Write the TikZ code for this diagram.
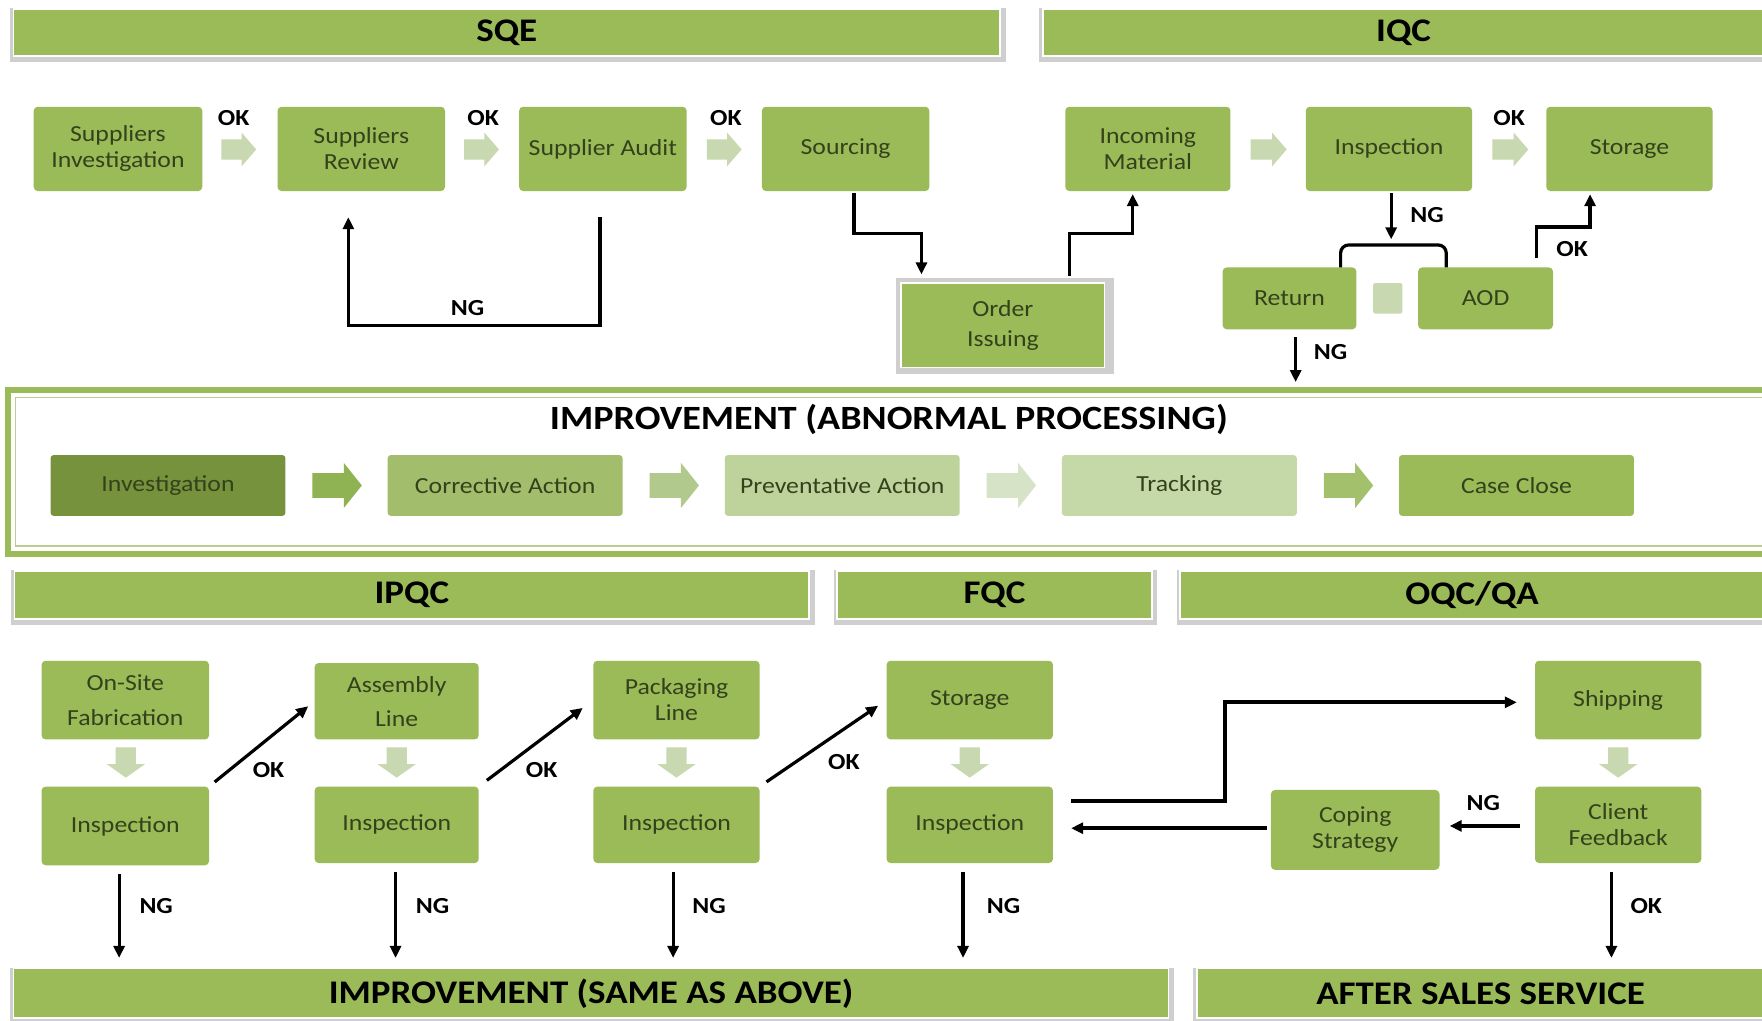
\documentclass[tikz,border=0pt]{standalone}
\usepackage{fontspec}
\setmainfont{Carlito}[FakeStretch=1.12]
\usetikzlibrary{arrows.meta,calc}
\definecolor{og}{HTML}{9BBB59}
\definecolor{ogdark}{HTML}{76923C}
\definecolor{ogca}{HTML}{A2BE6C}
\definecolor{ogpa}{HTML}{BED39B}
\definecolor{ogtr}{HTML}{C5D8A8}
\definecolor{txt}{HTML}{33421B}
\definecolor{lightarr}{HTML}{C8D8B0}
\definecolor{shadowc}{HTML}{CFCFCF}
\definecolor{framein}{HTML}{B9CF92}
\definecolor{arA}{HTML}{8FB252}
\definecolor{arB}{HTML}{B1C98C}
\definecolor{arC}{HTML}{D7E3C7}
\definecolor{arD}{HTML}{A3C06C}
\tikzset{
  gbox/.style={rounded corners=4pt, fill=og, text=txt, align=center, inner sep=0pt,
    font=\fontsize{23}{26}\selectfont},
  hdr/.style={fill=og, draw=white, line width=1.5pt, inner sep=0pt, text=black,
    font=\bfseries\fontsize{33}{36}\selectfont},
  lbl/.style={font=\bfseries\fontsize{23}{26}\selectfont, text=black, inner sep=0pt},
  conn/.style={draw=black, line width=3.2pt, -{Triangle[length=12pt,width=11pt]}},
  wire/.style={draw=black, line width=3.2pt}
}
\newcommand\gbox[7][]{\node[gbox,minimum width={(#5-#3)*1.1237pt},minimum height={(#6-#4)*1.1237pt},#1] (#2) at ({(#3+#5)/2},{(#4+#6)/2}) {#7};}
\newcommand\hdr[7][]{\fill[shadowc] (#3-3,#4-1) rectangle (#5+5,#6+5);
  \node[hdr,minimum width={(#5-#3)*1.1237pt},minimum height={(#6-#4)*1.1237pt},#1] (#2) at ({(#3+#5)/2},{(#4+#6)/2}) {#7};}
% right block arrow: x1, yc, x2, colour, half head, half shaft, head length
\newcommand\rarr[7]{\fill[#4] (#1,#2-#6) -- (#3-#7,#2-#6) -- (#3-#7,#2-#5) -- (#3,#2) -- (#3-#7,#2+#5) -- (#3-#7,#2+#6) -- (#1,#2+#6) -- cycle;}
% down block arrow: xc, y1, y2, colour
\newcommand\darr[4]{\fill[#4] (#1-9,#2) -- (#1+9,#2) -- (#1+9,#3-12) -- (#1+17,#3-12) -- (#1,#3) -- (#1-17,#3-12) -- (#1-9,#3-12) -- cycle;}
\begin{document}
\begin{tikzpicture}[x=1.1237pt,y=-1.1237pt]
\useasboundingbox (0,0) rectangle (1568,908);
\fill[white] (0,0) rectangle (1568,908);

% ---------- headers ----------
\hdr{sqe}{12}{8}{890}{50}{SQE}
\hdr{iqc}{928}{8}{1570}{50}{IQC}

% ---------- SQE row ----------
\gbox{si}{30}{95}{180}{170}{Suppliers\\Investigation}
\gbox{sr}{247}{95}{396}{170}{Suppliers\\Review}
\gbox{sa}{462}{95}{611}{170}{Supplier Audit}
\gbox{so}{678}{95}{827}{170}{Sourcing}
\rarr{197}{133}{228}{lightarr}{15}{9}{13}
\rarr{413}{133}{444}{lightarr}{15}{9}{13}
\rarr{629}{133}{660}{lightarr}{15}{9}{13}
\node[lbl] (ok1) at (208,105) {OK};
\node[lbl] (ok2) at (430,105) {OK};
\node[lbl] (ok3) at (646,105) {OK};

\draw[conn, shorten <=26pt, shorten >=26pt] (sa.south -| 534,0) |- (310,290) -- (sr.south -| 310,0);
\node[lbl] (ng1) at (416,274) {NG};

% ---------- Order issuing ----------
\fill[shadowc] (797,247) rectangle (991,333);
\node[gbox, rounded corners=0pt, draw=white, line width=1.5pt, minimum width={(983-802)*1.1237pt}, minimum height={(327-252)*1.1237pt},
  font=\fontsize{23}{30}\selectfont] (oi) at ({(802+983)/2},{(252+327)/2}) {Order\\Issuing};
\draw[conn, shorten <=2pt, shorten >=8pt] (so.south -| 760,0) |- (820,208) -- (oi.north -| 820,0);
\draw[conn, shorten <=6pt, shorten >=3pt] (oi.north -| 952,0) |- (1008,208) -- (1008,170);

% ---------- IQC row ----------
\gbox{im}{948}{95}{1095}{170}{Incoming\\Material}
\gbox{qi}{1162}{95}{1310}{170}{Inspection}
\gbox{st}{1376}{95}{1524}{170}{Storage}
\rarr{1113}{133}{1145}{lightarr}{15}{9}{13}
\rarr{1328}{133}{1360}{lightarr}{15}{9}{13}
\node[lbl] (ok4) at (1343,105) {OK};
\gbox{ret}{1088}{238}{1207}{293}{Return}
\gbox{aod}{1262}{238}{1382}{293}{AOD}
\fill[lightarr, rounded corners=2pt] (1222,252) rectangle (1248,279);
\draw[conn, shorten <=2pt] (qi.south -| 1238,0) -- (1238,213);
\node[lbl] (ng2) at (1270,191) {NG};
\draw[wire, rounded corners=8pt] (ret.north -| 1193,0) |- (1240,218) -| (aod.north -| 1287,0);
\draw[conn, shorten <=9pt, shorten >=3pt] (aod.north -| 1367,0) |- (1415,202) -- (st.south -| 1415,0);
\node[lbl] (ok5) at (1399,222) {OK};
\draw[conn, shorten <=8pt] (ret.south -| 1153,0) -- (1153,340);
\node[lbl] (ng3) at (1184,313) {NG};

% ---------- Improvement frame ----------
\draw[og, line width=5.5pt] (7,347) rectangle (1580,493);
\draw[framein, line width=1.3pt] (14,354) rectangle (1580,486);
\node[font=\bfseries\fontsize{34}{37}\selectfont, text=black] (imptitle) at (791,373) {IMPROVEMENT (ABNORMAL PROCESSING)};
\gbox[fill=ogdark, rounded corners=3pt]{inv}{45}{405}{254}{459}{Investigation}
\gbox[fill=ogca, rounded corners=3pt]{ca}{345}{405}{554}{459}{Corrective Action}
\gbox[fill=ogpa, rounded corners=3pt]{pa}{645}{405}{854}{459}{Preventative Action}
\gbox[fill=ogtr, rounded corners=3pt]{tr}{945}{405}{1154}{459}{Tracking}
\gbox[fill=og, rounded corners=3pt]{cc}{1245}{405}{1454}{459}{Case Close}
\rarr{278}{432}{322}{arA}{20}{11}{16}
\rarr{578}{432}{622}{arB}{20}{11}{16}
\rarr{878}{432}{922}{arC}{20}{11}{16}
\rarr{1178}{432}{1222}{arD}{20}{11}{16}

% ---------- lower headers ----------
\hdr{ipqc}{13}{508}{720}{551}{IPQC}
\hdr{fqc}{745}{508}{1025}{551}{FQC}
\hdr{oqc}{1050}{508}{1570}{551}{OQC/QA}
\hdr{impb}{12}{862}{1040}{906}{IMPROVEMENT (SAME AS ABOVE)}
\hdr{asv}{1065}{862}{1570}{906}{AFTER SALES SERVICE}

% ---------- lower boxes ----------
\gbox[font=\fontsize{23}{35}\selectfont]{of}{37}{588}{186}{658}{On-Site\\Fabrication}
\gbox{i1}{37}{700}{186}{770}{Inspection}
\gbox[font=\fontsize{23}{34}\selectfont]{al}{280}{590}{426}{658}{Assembly\\Line}
\gbox{i2}{280}{700}{426}{768}{Inspection}
\gbox{pl}{528}{588}{676}{658}{Packaging\\Line}
\gbox{i3}{528}{700}{676}{768}{Inspection}
\gbox{fs}{789}{588}{937}{658}{Storage}
\gbox{i4}{789}{700}{937}{768}{Inspection}
\gbox{sh}{1366}{588}{1514}{658}{Shipping}
\gbox{cf}{1366}{700}{1514}{768}{Client\\Feedback}
\gbox{cs}{1131}{703}{1281}{774}{Coping\\Strategy}

\darr{112}{665}{692}{lightarr}
\darr{353}{665}{692}{lightarr}
\darr{602}{665}{692}{lightarr}
\darr{863}{665}{692}{lightarr}
\darr{1440}{665}{692}{lightarr}

% diagonal OK arrows
\draw[conn, shorten <=7pt, shorten >=8pt] (i1.north east) -- (al.west);
\draw[conn, shorten <=10pt, shorten >=13pt] (i2.north east) -- (pl.west);
\draw[conn, shorten <=8pt, shorten >=10pt] (i3.north east) -- (fs.west);
\node[lbl] (ok6) at (239,685) {OK};
\node[lbl] (ok7) at (482,685) {OK};
\node[lbl] (ok8) at (751,678) {OK};

% NG down arrows
\draw[conn, shorten <=9pt, shorten >=10pt] (i1.south -| 106,0) -- (impb.north -| 106,0);
\draw[conn, shorten <=9pt, shorten >=10pt] (i2.south -| 352,0) -- (impb.north -| 352,0);
\draw[conn, shorten <=9pt, shorten >=10pt] (i3.south -| 599,0) -- (impb.north -| 599,0);
\draw[conn, shorten <=9pt, shorten >=10pt] (i4.south -| 857,0) -- (impb.north -| 857,0);
\node[lbl] (ng4) at (139,806) {NG};
\node[lbl] (ng5) at (385,806) {NG};
\node[lbl] (ng6) at (631,806) {NG};
\node[lbl] (ng7) at (893,806) {NG};
\draw[conn, shorten <=9pt, shorten >=10pt] (cf.south -| 1434,0) -- (asv.north -| 1434,0);
\node[lbl] (ok9) at (1465,806) {OK};

% FQC / OQC loop
\draw[conn, line width=4pt, shorten <=18pt, shorten >=18pt] (i4.east |- 0,713) -| (1090,625) -- (sh.west |- 0,625);
\draw[conn, line width=3.6pt, shorten <=4pt, shorten >=18pt] (cs.west |- 0,737) -- (i4.east |- 0,737);
\draw[conn, line width=3.6pt, shorten <=15pt, shorten >=10pt] (cf.west |- 0,735) -- (cs.east |- 0,735);
\node[lbl] (ng8) at (1320,715) {NG};
\end{tikzpicture}
\end{document}
